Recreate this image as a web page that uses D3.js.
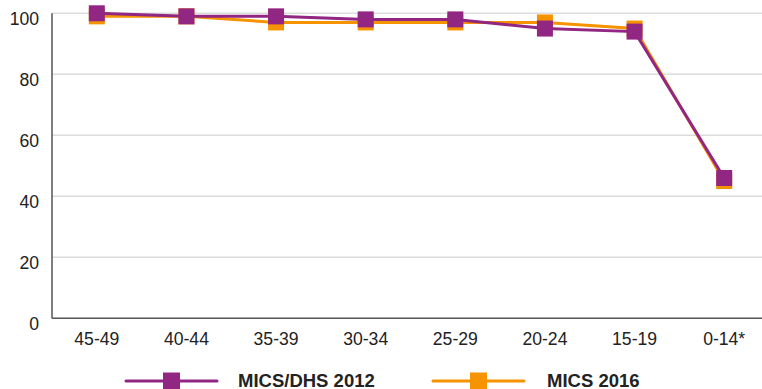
<!DOCTYPE html>
<html>
<head>
<meta charset="utf-8">
<script src="https://cdn.jsdelivr.net/npm/d3@7"></script>
<style>
  html, body { margin: 0; padding: 0; background: #fff; }
  svg { display: block; font-family: "Liberation Sans", Arial, sans-serif; }
</style>
</head>
<body>
<svg id="chart" width="762" height="389"></svg>
<script>
const categories = ["45-49", "40-44", "35-39", "30-34", "25-29", "20-24", "15-19", "0-14*"];
const seriesNames = ["MICS/DHS 2012", "MICS 2016"];
const mics2012 = [100, 99, 99, 98, 98, 95, 94, 46];
const mics2016 = [99, 99, 97, 97, 97, 97, 95, 45];
const yTicks = [0, 20, 40, 60, 80, 100];

const colors = { "MICS/DHS 2012": "#922683", "MICS 2016": "#F59300" };

const svg = d3.select("#chart");
const W = 762, H = 389;
const mLeft = 52, mRight = 769, mTop = 13.3, mBottom = 318.3;

const x = d3.scaleBand().domain(categories).range([mLeft, mRight]).padding(0);
const y = d3.scaleLinear().domain([0, 100]).range([mBottom, mTop]);

// gridlines
svg.append("g").selectAll("line").data(yTicks.filter(d => d > 0)).join("line")
  .attr("x1", mLeft).attr("x2", W)
  .attr("y1", d => y(d)).attr("y2", d => y(d))
  .attr("stroke", "#dcdcdc").attr("stroke-width", 1.5);

// y axis labels
svg.append("g").selectAll("text").data(yTicks).join("text")
  .attr("x", 39).attr("y", d => y(d) + 11.5)
  .attr("text-anchor", "end")
  .attr("font-size", 17.6).attr("fill", "#222")
  .text(d => d);

// axes lines
svg.append("line").attr("x1", mLeft).attr("x2", mLeft).attr("y1", mTop).attr("y2", mBottom)
  .attr("stroke", "#555").attr("stroke-width", 1.5);
svg.append("line").attr("x1", mLeft).attr("x2", W).attr("y1", mBottom).attr("y2", mBottom)
  .attr("stroke", "#555").attr("stroke-width", 1.5);

// x labels
svg.append("g").selectAll("text").data(categories).join("text")
  .attr("x", d => x(d) + x.bandwidth() / 2).attr("y", 345)
  .attr("text-anchor", "middle")
  .attr("font-size", 17.6).attr("fill", "#222")
  .text(d => d);

const series = [
  { name: "MICS 2016", values: mics2016 },
  { name: "MICS/DHS 2012", values: mics2012 }
];

const line = d3.line()
  .x((d, i) => x(categories[i]) + x.bandwidth() / 2)
  .y(d => y(d));

const ms = 16;
series.forEach(s => {
  const g = svg.append("g");
  g.append("path").attr("d", line(s.values))
    .attr("fill", "none").attr("stroke", colors[s.name]).attr("stroke-width", 3);
  g.selectAll("rect").data(s.values).join("rect")
    .attr("x", (d, i) => x(categories[i]) + x.bandwidth() / 2 - ms / 2)
    .attr("y", d => y(d) - ms / 2)
    .attr("width", ms).attr("height", ms)
    .attr("fill", colors[s.name]);
});

// legend
const legendItems = [
  { name: seriesNames[0], x0: 126, x1: 217, tx: 238 },
  { name: seriesNames[1], x0: 433, x1: 524, tx: 547 }
];
const ly = 381;
legendItems.forEach(it => {
  const g = svg.append("g");
  g.append("line").attr("x1", it.x0).attr("x2", it.x1).attr("y1", ly).attr("y2", ly)
    .attr("stroke", colors[it.name]).attr("stroke-width", 3).attr("stroke-linecap", "round");
  const cx = (it.x0 + it.x1) / 2;
  g.append("rect").attr("x", cx - 8.5).attr("y", ly - 8.5).attr("width", 17).attr("height", 17)
    .attr("fill", colors[it.name]);
  g.append("text").attr("x", it.tx).attr("y", 386.5)
    .attr("font-size", 18.5).attr("font-weight", "bold").attr("fill", "#222")
    .text(it.name);
});
</script>
</body>
</html>
